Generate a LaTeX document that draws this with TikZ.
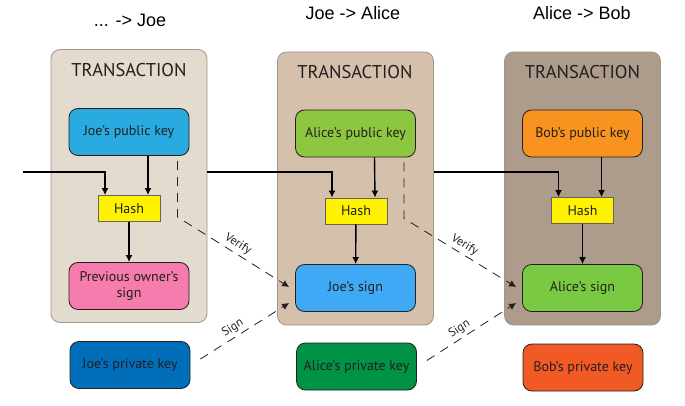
\documentclass[tikz,border=0pt]{standalone}
\usepackage{fontspec}
\setmainfont{PT Sans}
\newfontfamily\titlefont{Liberation Sans}
\usetikzlibrary{arrows.meta}
\definecolor{panelA}{RGB}{228,219,207}
\definecolor{panelB}{RGB}{213,193,171}
\definecolor{panelC}{RGB}{173,156,139}
\definecolor{panelline}{RGB}{160,150,140}
\definecolor{joepub}{RGB}{41,171,226}
\definecolor{prevsign}{RGB}{245,124,172}
\definecolor{joepriv}{RGB}{0,110,184}
\definecolor{alicepub}{RGB}{141,198,63}
\definecolor{joesign}{RGB}{63,169,245}
\definecolor{alicepriv}{RGB}{0,146,69}
\definecolor{bobpub}{RGB}{247,147,30}
\definecolor{alicesign}{RGB}{122,201,67}
\definecolor{bobpriv}{RGB}{241,90,36}
\definecolor{hashyellow}{RGB}{255,242,0}
\definecolor{inkdark}{RGB}{35,31,32}
\begin{document}
\begin{tikzpicture}[x=1pt, y=-1pt,
    panel/.style={draw=panelline, line width=0.8pt, rounded corners=9pt,
      minimum width=156pt, minimum height=273pt, inner sep=0pt},
    keybox/.style={draw=inkdark, line width=0.8pt, rounded corners=9pt,
      minimum width=120pt, minimum height=47pt, align=center,
      font=\fontsize{14}{16.5}\selectfont, text=inkdark},
    hashbox/.style={draw=inkdark!70, line width=0.8pt, fill=hashyellow,
      minimum width=62pt, minimum height=26pt, inner sep=0pt,
      font=\fontsize{14}{16}\selectfont, text=inkdark},
    heading/.style={font=\fontsize{18.5}{20}\selectfont, text=inkdark},
    title/.style={font=\titlefont\fontsize{18}{20}\selectfont},
    flow/.style={line width=1.4pt, -{Latex[length=7pt,width=7pt]}},
    verify/.style={line width=0.8pt, inkdark, dash pattern=on 9pt off 7pt,
      -{Latex[length=7pt,width=7pt]}},
    dashlabel/.style={font=\fontsize{12}{13}\selectfont, text=inkdark,
      sloped, above, inner sep=3pt}]
  \useasboundingbox (0,0) rectangle (685,406);

  % titles
  \node[title] (t1) at (130,20) {... -> Joe};
  \node[title] (t2) at (353,13) {Joe -> Alice};
  \node[title] (t3) at (582,13) {Alice -> Bob};

  % transactions
  \node[panel, fill=panelA] (tx1) at (129,186) {};
  \node[panel, fill=panelB] (tx2) at (355.5,188.5) {};
  \node[panel, fill=panelC] (tx3) at (582.5,188.5) {};
  \node[heading] (h1) at (129,70) {TRANSACTION};
  \node[heading] (h2) at (355,72) {TRANSACTION};
  \node[heading] (h3) at (582.5,72) {TRANSACTION};

  % ... -> Joe
  \node[keybox, fill=joepub] (pub1) at (129,132) {Joe’s public key};
  \node[hashbox] (hash1) at (129,208.5) {Hash};
  \node[keybox, fill=prevsign] (sign1) at (129,286)
    {Previous owner’s\\sign};
  \node[keybox, fill=joepriv] (priv1) at (130,365) {Joe’s private key};

  % Joe -> Alice
  \node[keybox, fill=alicepub] (pub2) at (355.5,133.5) {Alice’s public key};
  \node[hashbox] (hash2) at (356,211) {Hash};
  \node[keybox, fill=joesign] (sign2) at (355.5,288) {Joe’s sign};
  \node[keybox, fill=alicepriv] (priv2) at (356.5,366.5) {Alice’s private key};

  % Alice -> Bob
  \node[keybox, fill=bobpub] (pub3) at (582.5,133.5) {Bob’s public key};
  \node[hashbox] (hash3) at (582.5,210.5) {Hash};
  \node[keybox, fill=alicesign] (sign3) at (582.5,288) {Alice’s sign};
  \node[keybox, fill=bobpriv] (priv3) at (583,367.5) {Bob’s private key};

  % hashing
  \coordinate (in0) at (23,172);
  \draw[flow] (in0) -| ([xshift=-24pt]hash1.north);
  \draw[flow] (tx1.east |- in0) -| ([xshift=-24pt]hash2.north);
  \draw[flow] (tx2.east |- in0) -| ([xshift=-24pt]hash3.north);
  \draw[flow] ([xshift=19pt]pub1.south) -- ([xshift=19pt]hash1.north);
  \draw[flow] ([xshift=19pt]pub2.south) -- ([xshift=19pt]hash2.north);
  \draw[flow] ([xshift=19pt]pub3.south) -- ([xshift=19pt]hash3.north);
  \draw[flow] (hash1) -- (sign1);
  \draw[flow] (hash2) -- (sign2);
  \draw[flow] (hash3) -- (sign3);

  % verify and sign
  \draw[verify] ([shift={(-12pt,-5pt)}]pub1.south east) -- ++(0,56)
    -- node[dashlabel] {Verify} ([shift={(-6pt,1pt)}]sign2.west);
  \draw[verify] ([shift={(10pt,6pt)}]priv1.east)
    -- node[dashlabel, pos=0.42] {Sign} ([shift={(-6pt,-15pt)}]sign2.west);
  \draw[verify] ([shift={(-12pt,-5pt)}]pub2.south east) -- ++(0,56)
    -- node[dashlabel] {Verify} ([shift={(-6pt,1pt)}]sign3.west);
  \draw[verify] ([shift={(10pt,6pt)}]priv2.east)
    -- node[dashlabel, pos=0.42] {Sign} ([shift={(-6pt,-15pt)}]sign3.west);
\end{tikzpicture}
\end{document}
